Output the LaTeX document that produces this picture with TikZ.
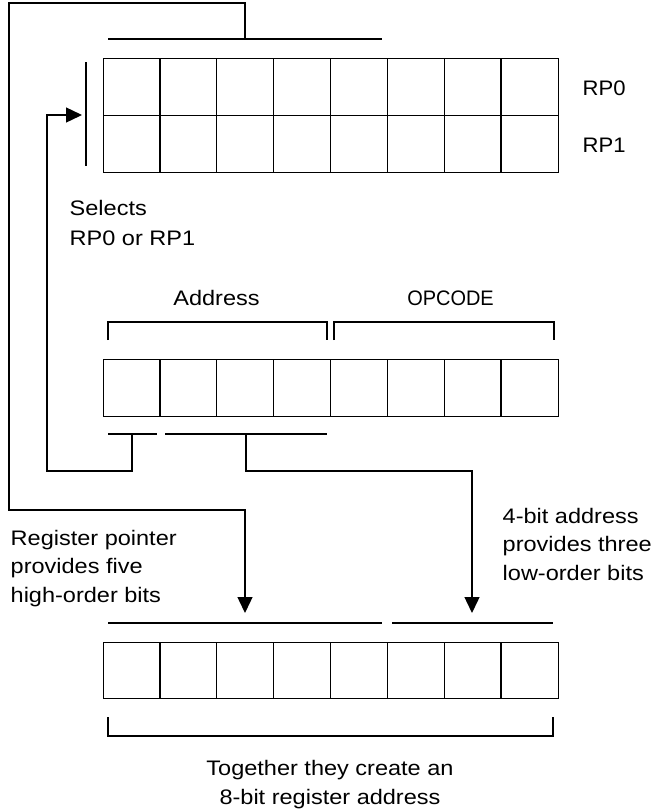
\documentclass[tikz,border=0pt]{standalone}
\usepackage{fontspec}
\setmainfont[FakeStretch=1.12]{Liberation Sans}
\newfontfamily\rpfont[FakeStretch=1.05]{Liberation Sans}
\newfontfamily\opfont[FakeStretch=0.95]{Liberation Sans}
\usetikzlibrary{arrows.meta,calc}
\begin{document}
\begin{tikzpicture}[x=1pt,y=-1pt,line width=1.4pt,
  lbl/.style={font=\fontsize{21}{30}\selectfont,inner sep=0pt,align=left},
  lblc/.style={font=\fontsize{21}{28.5}\selectfont,inner sep=0pt,align=center},
  arr/.style={-{Triangle[length=16pt,width=15pt]}},
  reg/.style={draw,rectangle,inner sep=0pt,minimum width=455pt,anchor=north west}]
\useasboundingbox (0,0) rectangle (654,811);

% registers
\node[reg,minimum height=114pt] (rpf) at (103,58) {};
\node[reg,minimum height=57pt] (ins) at (103,359) {};
\node[reg,minimum height=56pt] (res) at (103,642) {};
\draw (rpf.west) -- (rpf.east);
\foreach \i in {1,...,7}{
  \draw ($(rpf.north west)+(\i*56.875,0)$) -- ($(rpf.south west)+(\i*56.875,0)$);
  \draw ($(ins.north west)+(\i*56.875,0)$) -- ($(ins.south west)+(\i*56.875,0)$);
  \draw ($(res.north west)+(\i*56.875,0)$) -- ($(res.south west)+(\i*56.875,0)$);
}

% bars and brackets
\coordinate (tbL) at (108,39); \coordinate (tbR) at (382,39); \coordinate (tbM) at (245,39);
\draw (tbL) -- (tbR);
\coordinate (selT) at (86,62); \coordinate (selB) at (86,166);
\draw (selT) -- (selB);
\draw (108,340) -- (108,322) -- (327,322) -- (327,340);
\draw (334,340) -- (334,322) -- (554,322) -- (554,340);
\coordinate (sbL) at (108,434); \coordinate (sbR) at (157,434); \coordinate (sbM) at (132,434);
\coordinate (lbL) at (165,434); \coordinate (lbR) at (327,434); \coordinate (lbM) at (246,434);
\draw (sbL) -- (sbR);
\draw (lbL) -- (lbR);
\draw (108,623) -- (382,623);
\draw (392,623) -- (553,623);
\draw (108,717) -- (108,736) -- (553,736) -- (553,717);

% connectors
\coordinate (selTip) at (82,115);
\coordinate (hiTip) at (245,613);
\coordinate (loTip) at (472,613);
\draw[arr,line join=miter] (tbM) -- (245,3) -- (9,3) -- (9,510) -- (245,510) -- (hiTip);
\draw[arr,line join=miter] (sbM) -- (132,471) -- (47,471) -- (47,115) -- (selTip);
\draw[arr,line join=miter] (lbM) -- (246,471) -- (472,471) -- (loTip);

% labels (base anchor of a multi-line node = baseline of its last line)
\node[lbl,anchor=base west,font=\rpfont\fontsize{21}{30}\selectfont] (l0) at (582,95) {RP0};
\node[lbl,anchor=base west,font=\rpfont\fontsize{21}{30}\selectfont] (l1) at (582,152) {RP1};
\node[lbl,anchor=base west] (sel) at (69,245) {Selects\\RP0 or RP1};
\node[lbl,anchor=base] (addr) at (216.5,305) {Address};
\node[lbl,anchor=base,font=\opfont\fontsize{21}{30}\selectfont] (opc) at (450.5,305) {OPCODE};
\node[lblc,align=left,anchor=base west] (rp) at (10,602) {Register pointer\\provides five\\high-order bits};
\node[lblc,align=left,anchor=base west] (fb) at (502,580) {4-bit address\\provides three\\low-order bits};
\node[lblc,anchor=base] (tog) at (330,804) {Together they create an\\8-bit register address};
\end{tikzpicture}
\end{document}
